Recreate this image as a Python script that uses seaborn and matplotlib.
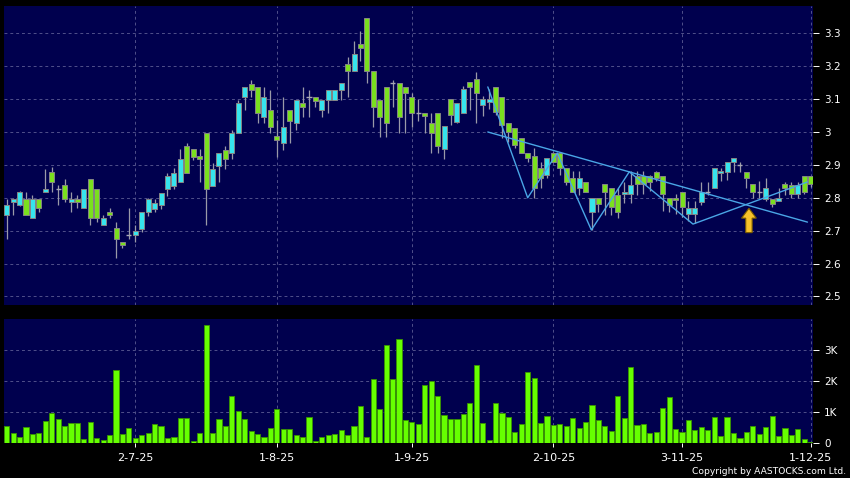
import numpy as np
import pandas as pd
import matplotlib
matplotlib.use('Agg')
import matplotlib.pyplot as plt
import seaborn as sns
from matplotlib.patches import FancyArrow

# daily OHLC (HK$)
opens = [2.747, 2.787, 2.777, 2.796, 2.738, 2.796, 2.817, 2.878, 2.826, 2.838,
         2.787, 2.796, 2.768, 2.856, 2.826, 2.717, 2.757, 2.707, 2.667, 2.686,
         2.686, 2.706, 2.756, 2.767, 2.777, 2.826, 2.837, 2.847, 2.956, 2.947,
         2.926, 2.996, 2.837, 2.897, 2.946, 2.937, 2.996, 3.105, 3.146, 3.136,
         3.046, 3.067, 2.987, 2.965, 3.067, 3.026, 3.087, 3.105, 3.105, 3.067,
         3.097, 3.097, 3.128, 3.206, 3.186, 3.266, 3.346, 3.186, 3.097, 3.136,
         3.148, 3.148, 3.136, 3.105, 3.059, 3.057, 3.026, 3.057, 2.947, 3.100,
         3.029, 3.059, 3.151, 3.161, 3.081, 3.091, 3.138, 3.107, 3.028, 3.011,
         2.981, 2.937, 2.928, 2.890, 2.870, 2.937, 2.937, 2.890, 2.860, 2.829,
         2.849, 2.758, 2.798, 2.841, 2.829, 2.809, 2.810, 2.812, 2.866, 2.866,
         2.866, 2.879, 2.866, 2.800, 2.800, 2.819, 2.751, 2.751, 2.788, 2.819,
         2.829, 2.876, 2.879, 2.910, 2.900, 2.879, 2.841, 2.819, 2.795, 2.795,
         2.789, 2.841, 2.839, 2.810, 2.866, 2.866]
highs = [2.796, 2.799, 2.820, 2.817, 2.808, 2.796, 2.888, 2.895, 2.838, 2.856,
         2.817, 2.808, 2.826, 2.856, 2.826, 2.747, 2.768, 2.727, 2.667, 2.768,
         2.717, 2.757, 2.800, 2.795, 2.816, 2.876, 2.889, 2.947, 2.966, 2.947,
         2.947, 2.996, 2.907, 2.937, 2.956, 3.006, 3.097, 3.136, 3.158, 3.136,
         3.136, 3.128, 3.036, 3.105, 3.067, 3.097, 3.136, 3.128, 3.105, 3.097,
         3.128, 3.128, 3.148, 3.229, 3.276, 3.307, 3.346, 3.186, 3.097, 3.136,
         3.158, 3.148, 3.136, 3.117, 3.100, 3.057, 3.057, 3.057, 3.018, 3.100,
         3.089, 3.140, 3.151, 3.181, 3.110, 3.130, 3.138, 3.107, 3.028, 3.011,
         2.981, 2.937, 2.950, 2.910, 2.920, 2.940, 2.937, 2.890, 2.880, 2.880,
         2.849, 2.800, 2.800, 2.841, 2.829, 2.829, 2.849, 2.880, 2.880, 2.880,
         2.870, 2.880, 2.866, 2.800, 2.810, 2.819, 2.789, 2.789, 2.849, 2.849,
         2.890, 2.890, 2.910, 2.920, 2.910, 2.879, 2.841, 2.850, 2.859, 2.795,
         2.829, 2.849, 2.849, 2.849, 2.866, 2.866]
lows = [2.676, 2.747, 2.775, 2.747, 2.738, 2.756, 2.817, 2.817, 2.777, 2.787,
        2.756, 2.768, 2.768, 2.717, 2.727, 2.717, 2.737, 2.616, 2.646, 2.676,
        2.667, 2.697, 2.746, 2.756, 2.767, 2.806, 2.827, 2.847, 2.876, 2.915,
        2.847, 2.716, 2.837, 2.847, 2.886, 2.917, 2.996, 3.067, 3.105, 3.026,
        3.026, 2.996, 2.925, 2.945, 2.965, 3.006, 3.046, 3.046, 3.077, 3.046,
        3.057, 3.097, 3.097, 3.105, 3.186, 3.217, 3.148, 3.016, 2.985, 2.985,
        3.077, 2.996, 2.996, 3.016, 3.033, 2.996, 2.937, 2.937, 2.917, 3.021,
        3.026, 3.057, 3.067, 3.028, 3.050, 3.070, 3.052, 2.981, 2.970, 2.950,
        2.935, 2.910, 2.800, 2.829, 2.860, 2.910, 2.870, 2.839, 2.818, 2.809,
        2.818, 2.702, 2.758, 2.748, 2.748, 2.740, 2.783, 2.783, 2.809, 2.810,
        2.820, 2.850, 2.760, 2.757, 2.750, 2.743, 2.730, 2.722, 2.778, 2.808,
        2.829, 2.850, 2.854, 2.879, 2.879, 2.829, 2.800, 2.800, 2.790, 2.773,
        2.789, 2.808, 2.800, 2.800, 2.810, 2.834]
closes = [2.777, 2.796, 2.817, 2.747, 2.796, 2.768, 2.826, 2.847, 2.826, 2.797,
          2.796, 2.787, 2.826, 2.737, 2.737, 2.737, 2.747, 2.676, 2.656, 2.686,
          2.698, 2.756, 2.795, 2.785, 2.816, 2.865, 2.876, 2.917, 2.876, 2.925,
          2.917, 2.826, 2.886, 2.937, 2.917, 2.996, 3.087, 3.136, 3.128, 3.057,
          3.105, 3.016, 2.977, 3.016, 3.034, 3.097, 3.077, 3.105, 3.095, 3.097,
          3.128, 3.128, 3.148, 3.186, 3.236, 3.256, 3.186, 3.077, 3.046, 3.026,
          3.148, 3.046, 3.117, 3.057, 3.059, 3.049, 2.996, 2.957, 3.018, 3.052,
          3.089, 3.130, 3.138, 3.120, 3.100, 3.100, 3.062, 3.021, 3.001, 2.960,
          2.937, 2.920, 2.829, 2.860, 2.920, 2.910, 2.890, 2.849, 2.818, 2.860,
          2.818, 2.798, 2.780, 2.818, 2.773, 2.758, 2.818, 2.839, 2.842, 2.842,
          2.849, 2.860, 2.812, 2.778, 2.793, 2.773, 2.768, 2.768, 2.819, 2.819,
          2.890, 2.882, 2.910, 2.920, 2.900, 2.859, 2.819, 2.819, 2.829, 2.780,
          2.799, 2.829, 2.810, 2.839, 2.819, 2.842]
volumes = [559, 323, 194, 516, 280, 333, 720, 978, 774, 548,
           656, 656, 129, 667, 151, 108, 247, 2355, 290, 484,
           172, 269, 333, 624, 548, 172, 204, 796, 806, 75,
           312, 3806, 333, 785, 559, 1516, 1032, 774, 376, 301,
           204, 473, 1097, 462, 462, 258, 204, 839, 65, 204,
           258, 301, 409, 269, 548, 1194, 204, 2065, 1097, 3183,
           2075, 3376, 742, 677, 613, 1860, 2000, 1505, 914, 763,
           763, 935, 1290, 2538, 645, 97, 1280, 978, 839, 366,
           602, 2301, 2097, 634, 860, 591, 624, 559, 817, 473,
           677, 1226, 753, 538, 387, 1527, 817, 2473, 570, 613,
           333, 366, 1140, 1473, 462, 355, 731, 419, 516, 419,
           839, 215, 849, 312, 172, 344, 548, 280, 527, 882,
           237, 473, 269, 462, 129, 32]

date_tick_pos = [20, 42, 63, 85, 105, 125]
date_tick_labels = ['2-7-25', '1-8-25', '1-9-25', '2-10-25', '3-11-25', '1-12-25']
price_ticks = [2.5, 2.6, 2.7, 2.8, 2.9, 3.0, 3.1, 3.2, 3.3]
price_labels = ['2.5', '2.6', '2.7', '2.8', '2.9', '3', '3.1', '3.2', '3.3']
vol_ticks = [0, 1000, 2000, 3000]
vol_labels = ['0', '1K', '2K', '3K']

# hand-drawn pattern lines (bar index, price)
zigzag_x = [74.8, 81.0, 85.6, 90.9, 96.8, 106.7, 124.5]
zigzag_y = [3.137, 2.800, 2.936, 2.702, 2.879, 2.720, 2.848]
neckline_x = [74.8, 124.5]
neckline_y = [3.000, 2.726]
arrow_x, arrow_base, arrow_tip = 115.4, 2.694, 2.768

NAVY = '#00004e'
CYAN = '#36e4ee'
GREEN = '#7ae01e'
GRID = '#50508a'

sns.set_theme(style='dark')
plt.rcParams['font.family'] = ['DejaVu Sans']

df = pd.DataFrame({'open': opens, 'high': highs, 'low': lows,
                   'close': closes, 'volume': volumes})
df['idx'] = np.arange(len(df))
df['up'] = df['close'] > df['open']
df['doji'] = (df['close'] - df['open']).abs() < 0.002

fig = plt.figure(figsize=(8.5, 4.78), dpi=100, facecolor='black')
ax = fig.add_axes([4 / 850, 1 - 305 / 478, 809 / 850, 299 / 478])
axv = fig.add_axes([4 / 850, 1 - 443 / 478, 809 / 850, 124 / 478])

for a in (ax, axv):
    a.set_facecolor(NAVY)
    for s in a.spines.values():
        s.set_visible(False)
    a.set_xlim(-0.42, 125.36)
    a.set_xticks(date_tick_pos)
    a.grid(True, color=GRID, linestyle=(0, (3, 3)), linewidth=0.7)
    a.yaxis.tick_right()
    a.tick_params(axis='y', colors='white', labelsize=7.5, length=4, pad=4,
                  width=0.7, left=False, right=True)
    a.set_axisbelow(True)

# candles
ax.vlines(df['idx'], df['low'], df['high'], color='#9a9aa8', lw=0.9, zorder=2)
body = df[~df['doji']]
ax.bar(body['idx'], (body['close'] - body['open']).abs(),
       bottom=body[['open', 'close']].min(axis=1), width=0.78,
       color=np.where(body['up'], CYAN, GREEN), edgecolor='#858585',
       linewidth=0.7, zorder=3)
dj = df[df['doji']]
ax.hlines(dj['open'], dj['idx'] - 0.39, dj['idx'] + 0.39, color='#a8a8b4',
          lw=1.0, zorder=3)

ax.plot(zigzag_x, zigzag_y, color='#4aa6e6', lw=1.0, zorder=4)
ax.plot(neckline_x, neckline_y, color='#4aa6e6', lw=1.0, zorder=4)
ax.add_patch(FancyArrow(arrow_x, arrow_base, 0, arrow_tip - arrow_base,
                        width=1.0, head_width=2.3, head_length=0.03,
                        length_includes_head=True, facecolor='#f6c12a',
                        edgecolor='#7a5a00', linewidth=0.8, zorder=5))

ax.set_ylim(2.474, 3.383)
ax.set_yticks(price_ticks)
ax.set_yticklabels(price_labels)
ax.tick_params(axis='x', bottom=False, labelbottom=False)
ax.set_xlabel('')
ax.set_ylabel('')

# volume
sns.barplot(data=df, x='idx', y='volume', native_scale=True, orient='x',
            color='#66ff00', saturation=1, edgecolor='#3a9400', linewidth=0.6,
            width=0.8, errorbar=None, ax=axv, zorder=3)
axv.set_xlim(-0.42, 125.36)
axv.set_ylim(0, 4010)
axv.set_yticks(vol_ticks)
axv.set_yticklabels(vol_labels)
axv.set_xticks(date_tick_pos)
axv.set_xticklabels(date_tick_labels)
axv.tick_params(axis='x', colors='white', labelsize=8, length=3, pad=4,
                width=0.7, bottom=True)
axv.set_xlabel('')
axv.set_ylabel('')

fig.text(0.996, 0.004, 'Copyright by AASTOCKS.com Ltd.', ha='right',
         va='bottom', color='white', fontsize=6.6)

fig.savefig('out.png', dpi=100, facecolor='black')
